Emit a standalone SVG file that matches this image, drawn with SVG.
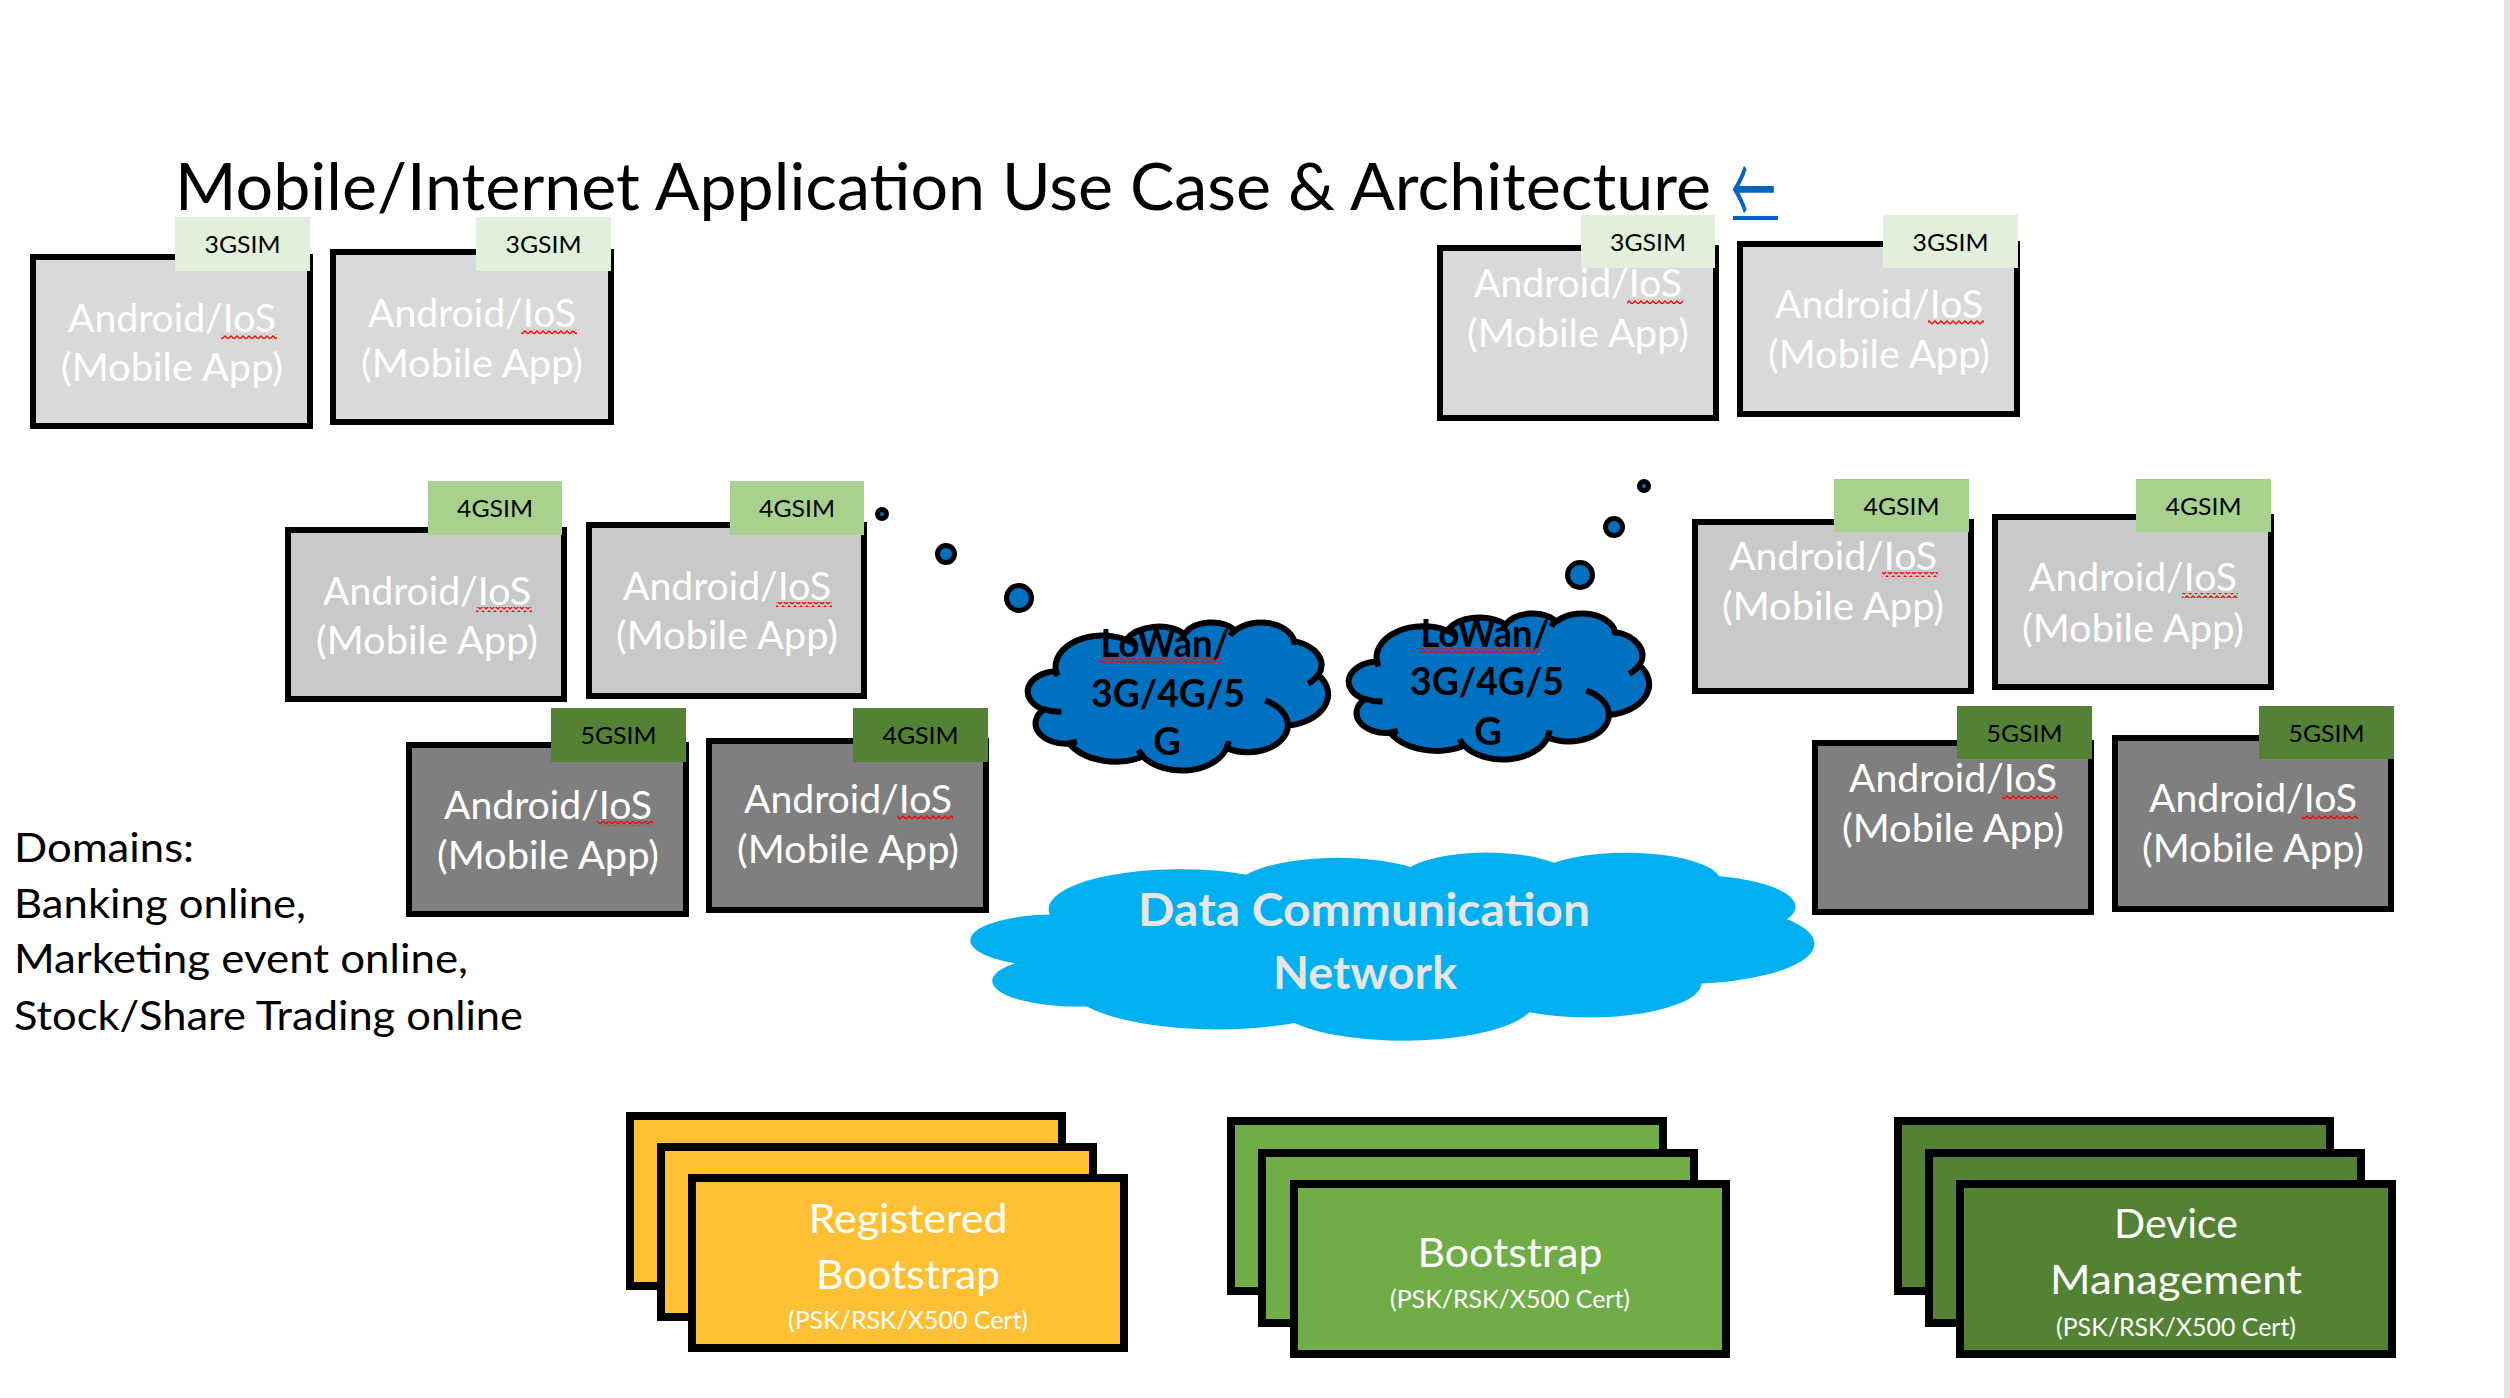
<svg xmlns="http://www.w3.org/2000/svg" xmlns:xlink="http://www.w3.org/1999/xlink" width="2510" height="1398" viewBox="0 0 2510 1398">
<defs>
<style>
.t{font-family:Lato,"Open Sans","Liberation Sans",sans-serif}
.box{stroke:#000;stroke-width:6}
.g3{fill:#D9D9D9}.g4{fill:#C9C9C9}.g5{fill:#7F7F7F}
.l3{fill:#E2EFDA}.l4{fill:#A9D18E}.l5{fill:#548235}
.bt{font-size:39px;fill:#FFFFFF;text-anchor:middle}
.lt{font-size:24px;fill:#000;text-anchor:middle}
.sq{fill:url(#squig)}
.bub{fill:#0070C0;stroke:#000;stroke-width:5}
.lowan{fill:#0070C0;stroke:#000;stroke-width:6}
.cin{fill:none;stroke:#000;stroke-width:6}
.ct{font-size:38px;font-weight:700;fill:#000;text-anchor:middle}
.dt{font-size:46px;font-weight:700;fill:#E7E6E6;text-anchor:middle}
.st{stroke:#000;stroke-width:8}
.yel{fill:#FFC133}.grn{fill:#70AD47}.dgr{fill:#548235}
.sm{font-size:41px;fill:#FFFFFF;text-anchor:middle}
.ss{font-size:25px;fill:#FFFFFF;text-anchor:middle}
.dom{font-size:41px;fill:#000}
</style>
<pattern id="squig" x="0" y="0" width="6" height="5" patternUnits="userSpaceOnUse">
<path d="M0,4 L3,1 L6,4" fill="none" stroke="#FF0000" stroke-width="1.3"/>
</pattern>
<path id="cloudShape" vector-effect="non-scaling-stroke" d="M3900,14370 A6753,9190 0 0 1 14006,5203 A5333,7267 0 0 1 22458,3435 A4365,5945 0 0 1 29836,2485 A4857,6595 0 0 1 38320,5580 A5333,7273 0 0 1 41821,15464 A6775,9220 0 0 1 37407,30207 A5785,7867 0 0 1 28558,36817 A6752,9215 0 0 1 16483,39270 A7720,10543 0 0 1 5807,35475 A4360,5918 0 0 1 2114,25555 A4345,5945 0 0 1 3900,14370 Z"/>
<path id="cloudInner" vector-effect="non-scaling-stroke" d="M4693,26177 A4345,5945 0 0 1 2159,25380 M6928,34899 A4360,5918 0 0 1 5819,35281 M16478,39090 A6752,9215 0 0 1 15810,37349 M28827,34751 A6752,9215 0 0 1 28560,36660 M34129,22954 A5785,7867 0 0 1 37381,30090 M41798,15354 A5333,7273 0 0 1 40350,18030 M38324,5426 A4857,6595 0 0 1 38400,6690 M29078,3952 A4857,6595 0 0 1 29820,2339 M22141,4720 A4365,5945 0 0 1 22500,3330 M14000,5192 A6753,9190 0 0 1 15301,6543 M4127,15789 A6753,9190 0 0 1 3900,14371"/>
</defs>
<rect x="0" y="0" width="2510" height="1398" fill="#FFFFFF"/>
<rect x="2504" y="0" width="6" height="1398" fill="#E3E3E3"/>

<g id="title">
<text class="t" x="175" y="210" font-size="66" fill="#000" textLength="1536" lengthAdjust="spacingAndGlyphs">Mobile/Internet Application Use Case &amp; Architecture</text>
<text x="0" y="0" transform="translate(1731,228) scale(0.62,1.4)" font-family="'Noto Sans CJK SC','Noto Sans CJK JP','DejaVu Sans',sans-serif" font-size="72" fill="#0563C1">←</text>
<rect x="1733" y="216" width="45" height="4" fill="#0563C1"/>
</g>

<g id="domains" class="t dom">
<text x="14" y="862" textLength="180" lengthAdjust="spacingAndGlyphs">Domains:</text>
<text x="14" y="918" textLength="292" lengthAdjust="spacingAndGlyphs">Banking online,</text>
<text x="14" y="973" textLength="454" lengthAdjust="spacingAndGlyphs">Marketing event online,</text>
<text x="14" y="1030" textLength="509" lengthAdjust="spacingAndGlyphs">Stock/Share Trading online</text>
</g>

<g id="connectors">
<circle class="bub" cx="882" cy="514" r="4.5"/>
<circle class="bub" cx="946" cy="554" r="8.5"/>
<circle class="bub" cx="1019" cy="598" r="12.5"/>
<circle class="bub" cx="1644" cy="486" r="4.5"/>
<circle class="bub" cx="1614" cy="527" r="8.5"/>
<circle class="bub" cx="1580" cy="575" r="12.5"/>
</g>

<g id="cloud-lowan-1">
<use xlink:href="#cloudShape" class="lowan" transform="translate(1029,622) scale(0.0069213,0.0034259)"/>
<use xlink:href="#cloudInner" class="cin" transform="translate(1029,622) scale(0.0069213,0.0034259)"/>
<text class="t ct" x="1165" y="657" textLength="129" lengthAdjust="spacingAndGlyphs">LoWan/</text>
<rect class="sq" x="1100" y="658" width="119" height="5"/>
<text class="t ct" x="1168" y="707" textLength="154" lengthAdjust="spacingAndGlyphs">3G/4G/5</text>
<text class="t ct" x="1167" y="755">G</text>
</g>

<g id="cloud-lowan-2">
<use xlink:href="#cloudShape" class="lowan" transform="translate(1350,613) scale(0.0069213,0.0033796)"/>
<use xlink:href="#cloudInner" class="cin" transform="translate(1350,613) scale(0.0069213,0.0033796)"/>
<text class="t ct" x="1485" y="647" textLength="129" lengthAdjust="spacingAndGlyphs">LoWan/</text>
<rect class="sq" x="1420" y="648" width="119" height="5"/>
<text class="t ct" x="1487" y="695" textLength="154" lengthAdjust="spacingAndGlyphs">3G/4G/5</text>
<text class="t ct" x="1488" y="745">G</text>
</g>

<g id="cloud-data">
<use xlink:href="#cloudShape" fill="#00B0F0" transform="translate(974,852) scale(0.019444,0.0043519)"/>
<text class="t dt" x="1364" y="926" textLength="452" lengthAdjust="spacingAndGlyphs">Data Communication</text>
<text class="t dt" x="1365" y="989" textLength="184" lengthAdjust="spacingAndGlyphs">Network</text>
</g>

<g id="app-3g-1">
<rect class="box g3" x="33" y="257" width="277" height="169"/>
<rect class="l3" x="175" y="217" width="135" height="54"/>
<text class="t lt" x="242.5" y="253" textLength="76" lengthAdjust="spacingAndGlyphs">3GSIM</text>
<text class="t bt" x="172" y="332" textLength="208" lengthAdjust="spacingAndGlyphs">Android/IoS</text>
<rect class="sq" x="221" y="334" width="56" height="5"/>
<text class="t bt" x="172" y="381" textLength="222" lengthAdjust="spacingAndGlyphs">(Mobile App)</text>
</g>
<g id="app-3g-2">
<rect class="box g3" x="333" y="252" width="278" height="170"/>
<rect class="l3" x="476" y="217" width="135" height="54"/>
<text class="t lt" x="543.5" y="253" textLength="76" lengthAdjust="spacingAndGlyphs">3GSIM</text>
<text class="t bt" x="472" y="327" textLength="208" lengthAdjust="spacingAndGlyphs">Android/IoS</text>
<rect class="sq" x="521" y="329" width="56" height="5"/>
<text class="t bt" x="472" y="377" textLength="222" lengthAdjust="spacingAndGlyphs">(Mobile App)</text>
</g>
<g id="app-3g-3">
<rect class="box g3" x="1440" y="248" width="276" height="170"/>
<rect class="l3" x="1581" y="215" width="134" height="53"/>
<text class="t lt" x="1648" y="251" textLength="76" lengthAdjust="spacingAndGlyphs">3GSIM</text>
<text class="t bt" x="1578" y="297" textLength="208" lengthAdjust="spacingAndGlyphs">Android/IoS</text>
<rect class="sq" x="1627" y="299" width="56" height="5"/>
<text class="t bt" x="1578" y="347" textLength="222" lengthAdjust="spacingAndGlyphs">(Mobile App)</text>
</g>
<g id="app-3g-4">
<rect class="box g3" x="1740" y="244" width="277" height="170"/>
<rect class="l3" x="1883" y="215" width="135" height="53"/>
<text class="t lt" x="1950.5" y="251" textLength="76" lengthAdjust="spacingAndGlyphs">3GSIM</text>
<text class="t bt" x="1879" y="318" textLength="208" lengthAdjust="spacingAndGlyphs">Android/IoS</text>
<rect class="sq" x="1928" y="320" width="56" height="5"/>
<text class="t bt" x="1879" y="368" textLength="222" lengthAdjust="spacingAndGlyphs">(Mobile App)</text>
</g>

<g id="app-4g-1">
<rect class="box g4" x="288" y="530" width="276" height="169"/>
<rect class="l4" x="428" y="481" width="134" height="54"/>
<text class="t lt" x="495" y="517" textLength="76" lengthAdjust="spacingAndGlyphs">4GSIM</text>
<text class="t bt" x="427" y="605" textLength="208" lengthAdjust="spacingAndGlyphs">Android/IoS</text>
<rect class="sq" x="476" y="607" width="56" height="5"/>
<text class="t bt" x="427" y="654" textLength="222" lengthAdjust="spacingAndGlyphs">(Mobile App)</text>
</g>
<g id="app-4g-2">
<rect class="box g4" x="589" y="525" width="275" height="171"/>
<rect class="l4" x="730" y="481" width="134" height="54"/>
<text class="t lt" x="797" y="517" textLength="76" lengthAdjust="spacingAndGlyphs">4GSIM</text>
<text class="t bt" x="727" y="600" textLength="208" lengthAdjust="spacingAndGlyphs">Android/IoS</text>
<rect class="sq" x="776" y="602" width="56" height="5"/>
<text class="t bt" x="727" y="649" textLength="222" lengthAdjust="spacingAndGlyphs">(Mobile App)</text>
</g>
<g id="app-4g-3">
<rect class="box g4" x="1695" y="522" width="276" height="169"/>
<rect class="l4" x="1834" y="479" width="135" height="53"/>
<text class="t lt" x="1901.5" y="515" textLength="76" lengthAdjust="spacingAndGlyphs">4GSIM</text>
<text class="t bt" x="1833" y="570" textLength="208" lengthAdjust="spacingAndGlyphs">Android/IoS</text>
<rect class="sq" x="1882" y="572" width="56" height="5"/>
<text class="t bt" x="1833" y="620" textLength="222" lengthAdjust="spacingAndGlyphs">(Mobile App)</text>
</g>
<g id="app-4g-4">
<rect class="box g4" x="1995" y="517" width="276" height="170"/>
<rect class="l4" x="2136" y="479" width="135" height="53"/>
<text class="t lt" x="2203.5" y="515" textLength="76" lengthAdjust="spacingAndGlyphs">4GSIM</text>
<text class="t bt" x="2133" y="591" textLength="208" lengthAdjust="spacingAndGlyphs">Android/IoS</text>
<rect class="sq" x="2182" y="593" width="56" height="5"/>
<text class="t bt" x="2133" y="642" textLength="222" lengthAdjust="spacingAndGlyphs">(Mobile App)</text>
</g>

<g id="app-5g-1">
<rect class="box g5" x="409" y="745" width="277" height="169"/>
<rect class="l5" x="551" y="708" width="135" height="54"/>
<text class="t lt" x="618.5" y="744" textLength="76" lengthAdjust="spacingAndGlyphs">5GSIM</text>
<text class="t bt" x="548" y="819" textLength="208" lengthAdjust="spacingAndGlyphs">Android/IoS</text>
<rect class="sq" x="597" y="821" width="56" height="5"/>
<text class="t bt" x="548" y="869" textLength="222" lengthAdjust="spacingAndGlyphs">(Mobile App)</text>
</g>
<g id="app-5g-2">
<rect class="box g5" x="709" y="741" width="277" height="169"/>
<rect class="l5" x="853" y="708" width="135" height="54"/>
<text class="t lt" x="920.5" y="744" textLength="76" lengthAdjust="spacingAndGlyphs">4GSIM</text>
<text class="t bt" x="848" y="813" textLength="208" lengthAdjust="spacingAndGlyphs">Android/IoS</text>
<rect class="sq" x="897" y="815" width="56" height="5"/>
<text class="t bt" x="848" y="863" textLength="222" lengthAdjust="spacingAndGlyphs">(Mobile App)</text>
</g>
<g id="app-5g-3">
<rect class="box g5" x="1815" y="743" width="276" height="169"/>
<rect class="l5" x="1957" y="706" width="135" height="53"/>
<text class="t lt" x="2024.5" y="742" textLength="76" lengthAdjust="spacingAndGlyphs">5GSIM</text>
<text class="t bt" x="1953" y="792" textLength="208" lengthAdjust="spacingAndGlyphs">Android/IoS</text>
<rect class="sq" x="2002" y="794" width="56" height="5"/>
<text class="t bt" x="1953" y="842" textLength="222" lengthAdjust="spacingAndGlyphs">(Mobile App)</text>
</g>
<g id="app-5g-4">
<rect class="box g5" x="2115" y="738" width="276" height="171"/>
<rect class="l5" x="2259" y="706" width="135" height="53"/>
<text class="t lt" x="2326.5" y="742" textLength="76" lengthAdjust="spacingAndGlyphs">5GSIM</text>
<text class="t bt" x="2253" y="812" textLength="208" lengthAdjust="spacingAndGlyphs">Android/IoS</text>
<rect class="sq" x="2302" y="814" width="56" height="5"/>
<text class="t bt" x="2253" y="862" textLength="222" lengthAdjust="spacingAndGlyphs">(Mobile App)</text>
</g>

<g id="registered-bootstrap">
<rect class="st yel" x="630" y="1116" width="432" height="170"/>
<rect class="st yel" x="661" y="1147" width="432" height="170"/>
<rect class="st yel" x="692" y="1178" width="432" height="170"/>
<text class="t sm" x="908" y="1233" textLength="199" lengthAdjust="spacingAndGlyphs">Registered</text>
<text class="t sm" x="908" y="1289" textLength="184" lengthAdjust="spacingAndGlyphs">Bootstrap</text>
<text class="t ss" x="908" y="1329" textLength="240" lengthAdjust="spacingAndGlyphs">(PSK/RSK/X500 Cert)</text>
</g>
<g id="bootstrap">
<rect class="st grn" x="1231" y="1121" width="432" height="170"/>
<rect class="st grn" x="1262" y="1153" width="432" height="170"/>
<rect class="st grn" x="1294" y="1184" width="432" height="170"/>
<text class="t sm" x="1510" y="1267" textLength="185" lengthAdjust="spacingAndGlyphs">Bootstrap</text>
<text class="t ss" x="1510" y="1308" textLength="240" lengthAdjust="spacingAndGlyphs">(PSK/RSK/X500 Cert)</text>
</g>
<g id="device-management">
<rect class="st dgr" x="1898" y="1121" width="432" height="170"/>
<rect class="st dgr" x="1929" y="1153" width="432" height="170"/>
<rect class="st dgr" x="1960" y="1184" width="432" height="170"/>
<text class="t sm" x="2176" y="1238" textLength="124" lengthAdjust="spacingAndGlyphs">Device</text>
<text class="t sm" x="2176" y="1294" textLength="252" lengthAdjust="spacingAndGlyphs">Management</text>
<text class="t ss" x="2176" y="1336" textLength="240" lengthAdjust="spacingAndGlyphs">(PSK/RSK/X500 Cert)</text>
</g>
</svg>
